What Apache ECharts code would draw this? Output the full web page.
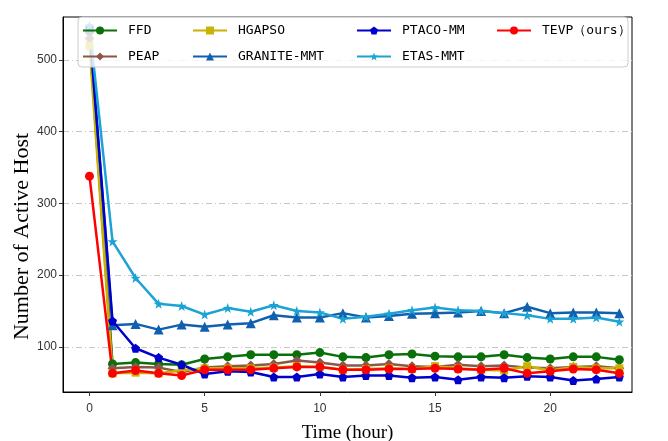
<!DOCTYPE html>
<html>
<head>
<meta charset="utf-8">
<script src="https://cdn.jsdelivr.net/npm/echarts@6/dist/echarts.min.js"></script>
<style>
    html, body { margin: 0; padding: 0; background: #fff; }
    #chart { width: 668px; height: 441px; }
</style>
</head>
<body>
<div id="chart"></div>
<script>
(function () {
    'use strict';

    var hours = [0, 1, 2, 3, 4, 5, 6, 7, 8, 9, 10, 11, 12, 13, 14, 15, 16, 17, 18, 19, 20, 21, 22, 23];

    var ffd = [540, 76, 78, 76, 75, 83, 86, 89, 89, 89, 92, 86, 85, 89, 90, 87, 86, 86, 89, 85, 83, 86, 86, 82];
    var peap = [530, 70, 72, 71, 65, 71, 73, 74, 76, 81, 78, 74, 74, 76, 73, 72, 75, 73, 74, 71, 70, 72, 73, 70];
    var hgapso = [520, 63, 64, 63, 67, 70, 70, 70, 71, 73, 72, 68, 69, 70, 69, 73, 70, 68, 67, 73, 67, 72, 70, 70];
    var graniteMmt = [545, 130, 132, 124, 131, 128, 131, 133, 144, 141, 141, 147, 141, 143, 146, 147, 148, 150, 147, 156, 147, 148, 148, 147];
    var ptacoMm = [545, 136, 98, 85, 75, 62, 66, 65, 58, 58, 62, 58, 60, 60, 57, 58, 54, 58, 57, 59, 58, 53, 55, 58];
    var etasMmt = [548, 247, 196, 160, 157, 145, 154, 149, 158, 150, 148, 139, 142, 146, 151, 155, 151, 150, 147, 144, 139, 139, 141, 135];
    var tevp = [338, 63, 67, 63, 60, 68, 68, 68, 70, 72, 72, 68, 68, 69, 69, 70, 69, 68, 70, 63, 66, 69, 68, 63];

    var xTicks = [0, 5, 10, 15, 20];
    var yTicks = [100, 200, 300, 400, 500];

    var pentagon = 'path://M0,-10 L9.51,-3.09 L5.88,8.09 L-5.88,8.09 L-9.51,-3.09 Z';
    var star = 'path://M0,-10 L2.35,-3.24 L9.51,-3.09 L3.8,1.24 L5.88,8.09 L0,4 L-5.88,8.09 L-3.8,1.24 L-9.51,-3.09 L-2.35,-3.24 Z';

    var pairs = function (values) {
        return hours.map(function (h, i) {
            return [h, values[i]];
        });
    };

    var makeSeries = function (name, values, color, symbol, size) {
        return {
            name: name,
            type: 'line',
            data: pairs(values),
            symbol: symbol,
            symbolSize: size,
            showSymbol: true,
            animation: false,
            lineStyle: { color: color, width: 2.5 },
            itemStyle: { color: color }
        };
    };

    var legendText = {
        fontFamily: 'DejaVu Sans Mono',
        fontSize: 13,
        color: '#000',
        padding: [0, 0, 0, 6]
    };

    var makeLegend = function (left, names) {
        return {
            orient: 'vertical',
            left: left,
            top: 19,
            z: 101,
            itemWidth: 34,
            itemHeight: 10,
            itemGap: 13,
            data: names,
            textStyle: legendText
        };
    };

    var chart = echarts.init(document.getElementById('chart'), null, { renderer: 'canvas' });

    chart.setOption({
        backgroundColor: '#fff',
        animation: false,
        grid: {
            left: 63,
            right: 36,
            top: 17,
            bottom: 49,
            outerBoundsMode: 'none',
            containLabel: false,
            show: true,
            borderColor: '#000',
            borderWidth: 1
        },
        graphic: [{
            type: 'rect',
            z: 100,
            shape: { x: 78, y: 17, width: 550, height: 50, r: 4 },
            style: { fill: 'rgba(255,255,255,0.8)', stroke: '#cccccc', lineWidth: 1 }
        }],
        legend: [
            makeLegend(77, ['FFD', 'PEAP']),
            makeLegend(187, ['HGAPSO', 'GRANITE-MMT']),
            makeLegend(351, ['PTACO-MM', 'ETAS-MMT']),
            makeLegend(491, ['TEVP（ours）'])
        ],
        xAxis: {
            type: 'value',
            min: -1.15,
            max: 23.55,
            name: 'Time (hour)',
            nameLocation: 'middle',
            nameGap: 32,
            nameMoveOverlap: false,
            nameTextStyle: { fontFamily: 'Liberation Serif', fontSize: 19, color: '#000' },
            axisLine: { onZero: false, lineStyle: { color: '#000' } },
            axisTick: { customValues: xTicks, length: 4, lineStyle: { color: '#333' } },
            axisLabel: { customValues: xTicks, fontFamily: 'Liberation Sans', fontSize: 12, color: '#333', margin: 11 },
            splitLine: { show: false }
        },
        yAxis: {
            type: 'value',
            min: 37,
            max: 560,
            name: 'Number of Active Host',
            nameLocation: 'middle',
            nameGap: 30,
            nameMoveOverlap: false,
            nameTextStyle: { fontFamily: 'Liberation Serif', fontSize: 22, color: '#000', padding: [0, 64, 0, 0] },
            axisLine: { onZero: false, lineStyle: { color: '#000' } },
            axisTick: { customValues: yTicks, length: 4, lineStyle: { color: '#333' } },
            axisLabel: { customValues: yTicks, fontFamily: 'Liberation Sans', fontSize: 12, color: '#333', margin: 6 },
            splitLine: {
                show: true,
                lineStyle: { color: '#c8c8c8', width: 1, type: [6, 3, 1, 3] }
            }
        },
        series: [
            makeSeries('FFD', ffd, '#0a700a', 'circle', 9),
            makeSeries('PEAP', peap, '#8c564b', 'diamond', 10),
            makeSeries('HGAPSO', hgapso, '#c9b200', 'rect', 8),
            makeSeries('GRANITE-MMT', graniteMmt, '#1060b0', 'triangle', 10),
            makeSeries('PTACO-MM', ptacoMm, '#0000cd', pentagon, 9),
            makeSeries('ETAS-MMT', etasMmt, '#1ba3d5', star, 10),
            makeSeries('TEVP（ours）', tevp, '#ff0000', 'circle', 9)
        ]
    });
}());
</script>
</body>
</html>
